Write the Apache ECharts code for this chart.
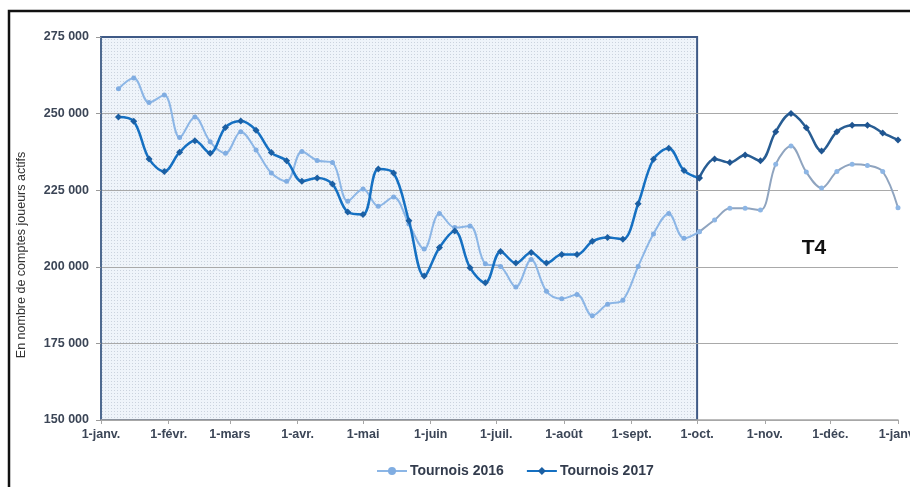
<!DOCTYPE html>
<html>
<head>
<meta charset="utf-8">
<script src="https://cdn.jsdelivr.net/npm/echarts@6/dist/echarts.min.js"></script>
<style>
html,body{margin:0;padding:0;background:#fff;}
#chart{width:910px;height:487px;}
</style>
</head>
<body>
<div id="chart"></div>
<script>
// ---- data ----
const monthDays = [0, 31, 59, 90, 120, 151, 181, 212, 243, 273, 304, 334, 365];
const monthLabels = ['1-janv.', '1-févr.', '1-mars', '1-avr.', '1-mai', '1-juin', '1-juil.', '1-août', '1-sept.', '1-oct.', '1-nov.', '1-déc.', '1-janv.'];
const weekDays = [8,15,22,29,36,43,50,57,64,71,78,85,92,99,106,113,120,127,134,141,148,155,162,169,176,183,190,197,204,211,218,225,232,239,246,253,260,267,274,281,288,295,302,309,316,323,330,337,344,351,358,365];
const tournois2016 = [258100,261600,253600,256100,242200,248900,240800,237100,244100,238100,
  230600,227900,237600,234700,234000,221400,225400,219800,222800,214000,
  205800,217400,212800,213300,201000,200100,193400,202400,192000,189600,
  191000,184000,187800,189100,200100,210700,217400,209300,211400,215300,
  219100,219100,218500,233500,239400,230900,225700,231100,233500,233100,
  231100,219300];
const tournois2017 = [248900,247500,235200,231100,237400,241100,237100,245500,247600,244600,
  237300,234600,227900,229000,227000,217900,217100,231900,230600,215000,
  197000,206300,211700,199700,194800,205000,201200,204700,201200,204000,
  204000,208300,209600,209000,220600,235100,238700,231400,229000,235200,
  234000,236500,234600,244100,250000,245400,237800,244100,246200,246200,
  243700,241400];
const seriesNames = ['Tournois 2016', 'Tournois 2017'];
const shadedRange = [0, 273];   // 1-janv. -> 1-oct.
const yMin = 150000, yMax = 275000, yStep = 25000;
const splitIndex = 38;          // first point after 1-oct.

function pairs(vals, from, to) {
  const out = [];
  for (let i = from; i <= to; i++) out.push([weekDays[i], vals[i]]);
  return out;
}

// dotted fill pattern
const pat = document.createElement('canvas');
pat.width = 3; pat.height = 3;
const pc = pat.getContext('2d');
pc.fillStyle = '#eff4fa'; pc.fillRect(0, 0, 3, 3);
pc.fillStyle = '#cbd3de'; pc.fillRect(0, 0, 1, 1);

const chart = echarts.init(document.getElementById('chart'), null, {renderer: 'canvas'});
const last = weekDays.length - 1;
const fontFam = '"Liberation Sans", Arial, sans-serif';

const option = {
  animation: false,
  backgroundColor: '#ffffff',
  grid: {left: 101, right: 12, top: 37, bottom: 67, outerBoundsMode: 'none', containLabel: false},
  graphic: [{
    type: 'rect', z: 100, silent: true,
    shape: {x: 9, y: 11, width: 1200, height: 1200},
    style: {fill: 'none', stroke: '#111', lineWidth: 2.5}
  }],
  legend: {
    data: seriesNames,
    left: 371, top: 459,
    itemWidth: 30, itemHeight: 10, itemGap: 22,
    textStyle: {fontFamily: fontFam, fontWeight: 'bold', fontSize: 14, color: '#333c4d', padding: [0,0,0,-2]}
  },
  xAxis: {
    type: 'value', min: 0, max: 365,
    axisLine: {show: true, lineStyle: {color: '#a6a6a6', width: 1.5}},
    axisTick: {show: true, length: 4, customValues: monthDays, lineStyle: {color: '#a6a6a6'}},
    axisLabel: {
      customValues: monthDays, margin: 8,
      fontFamily: fontFam, fontWeight: 'bold', fontSize: 12.5, color: '#3b4556',
      formatter: function (v) { const k = monthDays.indexOf(Math.round(v)); return k >= 0 ? monthLabels[k] : ''; }
    },
    splitLine: {show: false}
  },
  yAxis: {
    type: 'value', min: yMin, max: yMax, interval: yStep,
    name: 'En nombre de comptes joueurs actifs',
    nameLocation: 'middle', nameGap: 73, nameRotate: 90,
    nameTextStyle: {fontFamily: fontFam, fontSize: 12.5, color: '#333', padding: [0, 53, 0, 0]},
    axisLine: {show: true, lineStyle: {color: '#4f6a90', width: 2}},
    axisTick: {show: true, length: 5, lineStyle: {color: '#999'}},
    axisLabel: {
      margin: 12, fontFamily: fontFam, fontWeight: 'bold', fontSize: 12.5, color: '#3b4556',
      formatter: function (v) { return String(v).replace(/\B(?=(\d{3})+(?!\d))/g, ' '); }
    },
    splitLine: {show: true, showMaxLine: false, lineStyle: {color: '#a9a9a9', width: 1}}
  },
  series: [
    {
      name: seriesNames[0], type: 'line', smooth: 0.35, z: 3,
      data: pairs(tournois2016, 0, splitIndex),
      symbol: 'circle', symbolSize: 5,
      lineStyle: {color: '#8cb6e6', width: 2},
      itemStyle: {color: '#80ade2'},
      markArea: {
        silent: true, z: -1,
        itemStyle: {color: {image: pat, repeat: 'repeat'}, borderColor: '#3f5a86', borderWidth: 2},
        data: [[{xAxis: shadedRange[0], yAxis: yMin}, {xAxis: shadedRange[1], yAxis: yMax}]]
      },
      markPoint: {
        silent: true, symbol: 'circle', symbolSize: 0,
        label: {show: true, formatter: 'T4', position: 'inside', fontFamily: fontFam, fontWeight: 'bold', fontSize: 21, color: '#111'},
        data: [{coord: [326.5, 206200]}]
      }
    },
    {
      name: seriesNames[0], type: 'line', smooth: 0.35, z: 3,
      data: pairs(tournois2016, splitIndex, last),
      symbol: 'circle', symbolSize: 5,
      lineStyle: {color: '#8fa4bf', width: 2},
      itemStyle: {color: '#8db6e5'}
    },
    {
      name: seriesNames[1], type: 'line', smooth: 0.35, z: 4,
      data: pairs(tournois2017, 0, splitIndex),
      symbol: 'diamond', symbolSize: 7,
      lineStyle: {color: '#1570c2', width: 2.5},
      itemStyle: {color: '#1b5fa3'}
    },
    {
      name: seriesNames[1], type: 'line', smooth: 0.35, z: 4,
      data: pairs(tournois2017, splitIndex, last),
      symbol: 'diamond', symbolSize: 7,
      lineStyle: {color: '#285d93', width: 2.5},
      itemStyle: {color: '#1f5591'}
    }
  ]
};
chart.setOption(option);
</script>
</body>
</html>
